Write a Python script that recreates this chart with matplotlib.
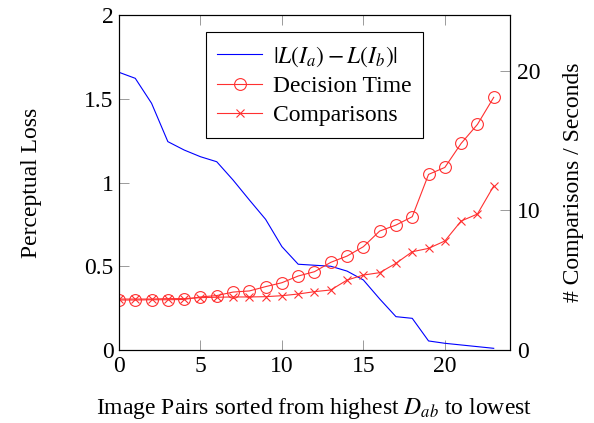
import matplotlib
matplotlib.use("Agg")
import matplotlib.pyplot as plt
import numpy as np

plt.rcParams['font.family'] = ['Liberation Serif', 'DejaVu Serif']
plt.rcParams['mathtext.fontset'] = 'stix'
plt.rcParams['font.size'] = 17

pairs = list(range(24))
perceptual_loss = [1.658, 1.622, 1.473, 1.244, 1.194, 1.154, 1.124, 1.015, 0.896, 0.780,
                   0.617, 0.512, 0.506, 0.500, 0.471, 0.418, 0.305, 0.199, 0.189, 0.054,
                   0.040, 0.030, 0.020, 0.010]
decision_time = [3.58, 3.58, 3.60, 3.60, 3.62, 3.80, 3.90, 4.15, 4.23, 4.54,
                 4.82, 5.30, 5.61, 6.28, 6.73, 7.40, 8.52, 8.95, 9.55, 12.58,
                 13.08, 14.80, 16.16, 18.10]
comparisons = [3.65, 3.65, 3.65, 3.68, 3.68, 3.75, 3.78, 3.80, 3.80, 3.82,
               3.89, 4.01, 4.18, 4.30, 5.01, 5.37, 5.54, 6.21, 7.04, 7.28,
               7.81, 9.24, 9.74, 11.75]

fig = plt.figure(figsize=(5.94, 4.23), dpi=100)
ax = fig.add_axes([0.2003, 0.1726, 0.6583, 0.7919])
ax2 = ax.twinx()

red = '#ff3030'
l1, = ax.plot(pairs, perceptual_loss, color='blue', lw=0.8, label=r'$|L(I_a)-L(I_b)|$')
l2, = ax2.plot(pairs, decision_time, color=red, lw=0.8, marker='o', ms=8.5,
               mfc='none', mec=red, mew=0.8, label='Decision Time')
l3, = ax2.plot(pairs, comparisons, color=red, lw=0.8, marker='x', ms=6,
               mec=red, mew=0.8, label='Comparisons')

ax.set_xlim(0, 24)
ax.set_ylim(0, 2)
ax2.set_ylim(0, 24)
ax.set_xticks([0, 5, 10, 15, 20])
ax.set_yticks([0, 0.5, 1, 1.5, 2])
ax.set_yticklabels(['0', '0.5', '1', '1.5', '2'])
ax2.set_yticks([0, 10, 20])

tc = '#8a8a8a'
ax.tick_params(axis='x', direction='in', top=True, length=7, width=0.6, color=tc, pad=4)
ax.tick_params(axis='y', direction='in', length=7, width=0.6, color=tc, pad=4)
ax2.tick_params(axis='y', direction='in', length=7, width=0.6, color=tc, pad=5)
for a in (ax, ax2):
    for s in a.spines.values():
        s.set_linewidth(0.8)

ax.set_ylabel('Perceptual Loss', labelpad=30)
ax2.set_ylabel('# Comparisons / Seconds', labelpad=16)
ax.set_xlabel(r'Image Pairs sorted from highest $D_{ab}$ to lowest', labelpad=14)

leg = ax2.legend(handles=[l1, l2, l3], loc='upper center', bbox_to_anchor=(0.5, 0.948),
                 frameon=True, fancybox=False, edgecolor='black', framealpha=1,
                 handlelength=1.9, borderpad=0.5, labelspacing=0.3, handletextpad=0.45,
                 borderaxespad=0)
leg.get_frame().set_linewidth(0.8)

fig.savefig('out.png', dpi=100)
